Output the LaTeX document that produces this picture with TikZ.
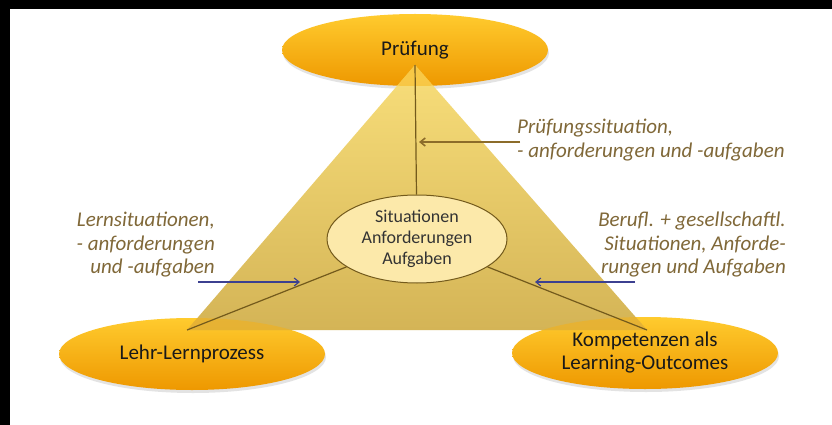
\documentclass[tikz,border=0pt]{standalone}
\usepackage{fontspec}
\setmainfont{Carlito}
\usepackage{tikz}
\usetikzlibrary{arrows.meta,shapes.geometric,shadows}
\definecolor{orgtop}{HTML}{FFCB2E}
\definecolor{orgmid}{HTML}{FBB00A}
\definecolor{orgbot}{HTML}{EE9800}
\definecolor{tritop}{HTML}{F8DE7A}
\definecolor{tribot}{HTML}{D4B456}
\definecolor{creme}{HTML}{FCE9AA}
\definecolor{rimbrown}{HTML}{735A1C}
\definecolor{txtbrown}{HTML}{806838}
\definecolor{arrblue}{HTML}{3C4090}
\definecolor{arrbrown}{HTML}{8C6C2A}

\begin{document}
\begin{tikzpicture}[
  x=1pt, y=-1pt,
  pole/.style={ellipse, top color=orgtop, middle color=orgmid, bottom color=orgbot,
               minimum width=266pt, minimum height=72pt, align=center, inner sep=0pt,
               font=\fontsize{21}{23}\selectfont, text=black!90,
               drop shadow={opacity=0.22, shadow xshift=1pt, shadow yshift=-3pt}},
  core/.style={ellipse, draw=rimbrown, line width=1pt, fill=creme,
               minimum width=180pt, minimum height=88pt, align=center, inner sep=0pt,
               font=\fontsize{18}{21}\selectfont, text=black!80},
  remark/.style={font=\fontsize{21}{23.5}\selectfont\itshape, text=txtbrown,
                 inner sep=0pt},
  spoke/.style={rimbrown, line width=1.2pt},
  >={Straight Barb[length=5pt,width=8pt]}]

\useasboundingbox (0,0) rectangle (832,425);
\fill[white] (0,0) rectangle (832,425);
\fill[black] (0,0) rectangle (832,9);
\fill[black] (0,0) rectangle (10,425);

% ---------------- three poles ----------------
\node[pole] (pruef) at (415,50)  {Prüfung};
\node[pole] (lehr)  at (192,354) {Lehr-Lernprozess};
\node[pole] (komp)  at (645,353) {Kompetenzen als\\Learning-Outcomes};

% ---------------- triangle over the poles ----------------
\coordinate (tA) at (415,65);
\coordinate (tL) at (187,330);
\coordinate (tR) at (647,330);
\shade[top color=tritop, bottom color=tribot] (tA) -- (tR) -- (tL) -- cycle;
% poles seen through the triangle
\begin{scope}
  \clip (tA) -- (tR) -- (tL) -- cycle;
  \foreach \p in {pruef,lehr,komp}{
    \fill[orgmid, opacity=0.45] (\p.center) ellipse [x radius=133pt, y radius=36pt];}
\end{scope}

\node[core] (mitte) at (417,239) {Situationen\\Anforderungen\\Aufgaben};
\draw[spoke] (tA) -- (mitte);
\draw[spoke] (mitte) -- (tL);
\draw[spoke] (mitte) -- (tR);

% ---------------- annotations ----------------
\node[remark, anchor=west, align=left] (tpruef) at (517,140)
  {Prüfungssituation,\\- anforderungen und -aufgaben};
\node[remark, anchor=east, align=right] (tlern) at (215,245)
  {Lernsituationen,\\- anforderungen\\und -aufgaben};
\node[remark, anchor=east, align=right] (tberuf) at (786,245)
  {Berufl. + gesellschaftl.\\Situationen, Anforde-\\rungen und Aufgaben};

\coordinate (aP1) at (520,142); \coordinate (aP2) at (419,142);
\coordinate (aL1) at (198,282); \coordinate (aL2) at (300,282);
\coordinate (aR1) at (635,282); \coordinate (aR2) at (535,282);
\draw[->, arrbrown, line width=1.6pt] (aP1) -- (aP2);
\foreach \a/\b in {aL1/aL2, aR1/aR2}{
  \draw[->, arrblue, line width=1.1pt] (\a) -- (\b);}
\end{tikzpicture}
\end{document}
